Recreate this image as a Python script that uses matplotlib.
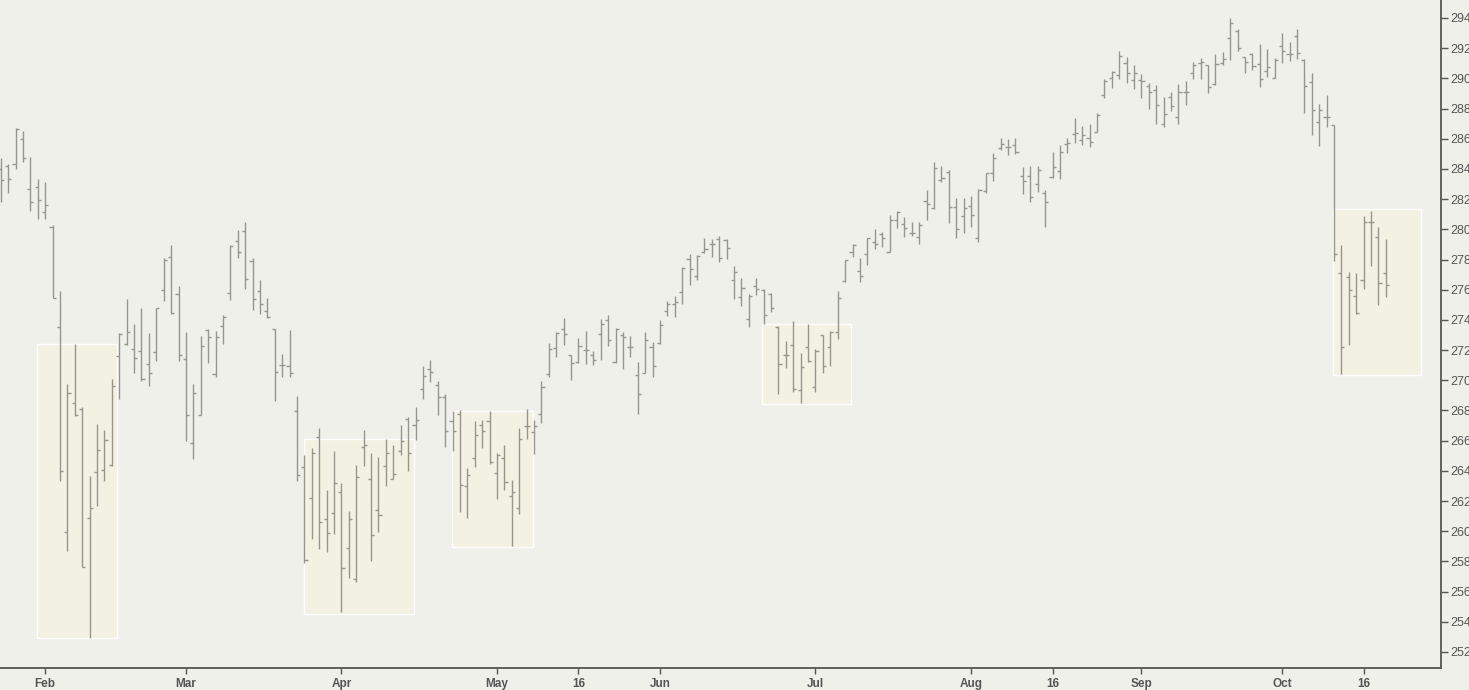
import numpy as np
import pandas as pd
import matplotlib
matplotlib.use('Agg')
import matplotlib.pyplot as plt
from matplotlib.patches import Rectangle

# trading days shown (NYSE holidays removed)
holidays = ['2018-02-19', '2018-03-30', '2018-05-28', '2018-07-04', '2018-09-03']
dates = pd.bdate_range('2018-01-24', '2018-10-19', freq='C', holidays=holidays)

opens = [284.00, 284.20, 284.33, 285.96, 282.65, 282.78, 281.15, 280.13, 273.51, 259.97,
         268.52, 268.08, 260.85, 263.90, 264.03, 264.37, 271.59, 272.38, 272.05, 271.92,
         271.10, 271.85, 275.96, 278.15, 275.72, 271.43, 265.82, 267.72, 273.31, 270.44,
         273.57, 275.76, 279.20, 279.87, 277.88, 275.89, 274.57, 273.37, 271.01, 270.94,
         267.96, 264.23, 262.18, 266.22, 260.79, 261.19, 262.58, 258.91, 256.84, 265.58,
         263.44, 261.38, 264.32, 263.48, 265.32, 267.46, 267.01, 269.42, 270.72, 269.67,
         268.91, 267.28, 267.74, 263.00, 264.85, 267.01, 267.30, 263.88, 264.85, 262.33,
         261.56, 266.95, 266.55, 267.74, 270.39, 272.16, 273.38, 271.65, 271.19, 271.98,
         271.67, 273.09, 273.97, 271.21, 273.00, 272.18, 270.33, 270.50, 272.20, 272.47,
         274.57, 275.08, 275.85, 278.01, 276.89, 278.48, 279.05, 279.38, 279.32, 276.62,
         275.52, 274.04, 276.27, 276.00, 275.69, 273.53, 271.65, 272.32, 269.38, 272.18,
         269.53, 272.98, 272.18, 273.20, 276.57, 278.48, 277.22, 278.34, 279.18, 279.67,
         278.52, 280.64, 280.35, 279.78, 279.47, 281.87, 281.39, 283.27, 283.82, 281.50,
         280.86, 281.57, 279.40, 282.56, 283.71, 285.41, 285.48, 285.59, 283.51, 283.51,
         282.98, 282.43, 283.44, 283.86, 285.63, 286.29, 285.90, 286.03, 286.47, 288.90,
         290.05, 290.22, 291.04, 289.89, 289.89, 289.50, 289.23, 287.00, 288.74, 287.42,
         289.12, 290.33, 291.04, 290.89, 289.63, 291.00, 292.65, 293.16, 291.42, 291.64,
         290.95, 290.49, 290.00, 292.14, 291.59, 292.81, 291.22, 289.76, 287.09, 287.42,
         286.93, 277.09, 276.85, 275.58, 276.64, 280.49, 279.47, 277.13]
highs = [284.75, 284.33, 286.69, 286.51, 284.79, 283.31, 283.14, 280.26, 275.91, 269.75,
         272.40, 268.21, 263.66, 267.10, 266.71, 270.08, 273.11, 275.38, 273.73, 274.79,
         273.11, 274.79, 278.10, 278.94, 276.24, 273.20, 269.75, 272.91, 273.42, 273.26,
         274.30, 278.94, 279.96, 280.46, 278.12, 276.62, 275.43, 273.42, 271.74, 273.33,
         268.96, 265.05, 265.53, 266.84, 262.75, 265.32, 263.17, 261.34, 264.37, 266.71,
         265.16, 264.92, 266.11, 265.69, 267.01, 267.59, 268.21, 270.94, 271.34, 269.95,
         269.09, 267.99, 268.03, 264.16, 267.30, 267.37, 267.99, 265.16, 265.71, 263.37,
         266.82, 268.07, 267.37, 269.95, 272.49, 273.18, 274.10, 271.67, 272.80, 273.24,
         271.94, 274.06, 274.33, 273.44, 273.22, 272.94, 271.23, 273.20, 272.54, 273.99,
         275.27, 275.61, 277.53, 278.34, 278.30, 279.40, 279.36, 279.54, 279.36, 277.55,
         276.75, 275.74, 276.75, 276.05, 275.76, 273.62, 272.60, 273.91, 271.83, 273.73,
         272.05, 273.02, 273.26, 275.92, 278.00, 279.05, 278.08, 279.45, 280.00, 279.85,
         280.95, 281.21, 280.79, 280.51, 280.46, 282.58, 284.46, 284.19, 283.90, 282.05,
         282.05, 282.21, 282.67, 283.73, 285.06, 286.03, 285.98, 286.03, 284.13, 284.19,
         284.19, 282.60, 285.10, 285.59, 286.03, 287.35, 286.85, 286.98, 287.68, 289.94,
         290.49, 291.81, 291.39, 290.86, 290.27, 289.67, 289.54, 288.74, 289.08, 289.63,
         289.83, 291.06, 291.33, 290.89, 291.62, 291.77, 294.00, 293.25, 291.44, 291.70,
         292.25, 291.95, 291.33, 292.98, 292.43, 293.25, 291.26, 290.33, 288.28, 288.88,
         286.93, 278.94, 277.17, 277.09, 280.88, 281.19, 280.15, 279.36]
lows = [281.83, 282.43, 283.97, 284.48, 281.24, 280.68, 280.68, 275.43, 263.35, 258.71,
        267.63, 257.61, 252.91, 261.69, 263.35, 264.34, 268.78, 272.31, 270.50, 269.98,
        269.64, 271.30, 275.27, 274.37, 271.30, 266.00, 264.79, 267.68, 271.17, 270.24,
        272.43, 275.32, 278.12, 276.05, 274.66, 274.39, 274.15, 268.65, 270.19, 270.24,
        263.35, 257.87, 259.46, 258.84, 258.60, 259.84, 254.67, 256.88, 256.61, 264.34,
        258.05, 259.97, 263.02, 263.44, 265.07, 264.01, 266.04, 268.76, 269.89, 267.72,
        265.60, 265.34, 261.27, 260.90, 264.28, 265.54, 264.47, 262.13, 262.75, 259.04,
        261.16, 266.13, 265.11, 267.15, 270.24, 271.54, 272.34, 270.04, 271.12, 271.06,
        270.99, 271.37, 272.25, 271.14, 270.77, 271.56, 267.77, 270.48, 270.20, 272.43,
        274.28, 274.19, 275.08, 276.31, 276.66, 278.41, 278.17, 277.82, 278.06, 275.38,
        274.94, 273.55, 275.65, 273.71, 274.50, 269.11, 270.84, 269.20, 268.52, 271.23,
        269.25, 270.46, 270.97, 272.73, 276.53, 278.14, 276.53, 277.61, 278.67, 278.85,
        278.48, 280.06, 279.47, 279.56, 279.05, 280.64, 281.35, 283.14, 280.40, 279.40,
        279.78, 280.18, 279.18, 282.38, 283.22, 285.25, 284.92, 284.97, 282.36, 281.79,
        282.49, 280.18, 283.42, 283.33, 285.08, 285.74, 285.59, 285.48, 286.42, 288.72,
        289.38, 289.94, 289.67, 289.30, 288.72, 287.95, 287.00, 286.76, 287.86, 287.00,
        288.24, 289.98, 289.98, 289.05, 289.58, 290.89, 291.22, 291.84, 290.38, 290.56,
        289.45, 290.11, 290.00, 291.00, 291.17, 291.28, 287.68, 286.22, 285.54, 286.80,
        277.92, 270.42, 272.36, 274.39, 276.07, 277.57, 274.99, 275.49]
closes = [283.25, 283.31, 286.62, 284.70, 281.81, 281.92, 281.59, 275.47, 263.97, 269.18,
          267.68, 257.65, 261.52, 265.36, 266.02, 269.60, 273.07, 273.18, 271.45, 270.06,
          270.46, 274.77, 277.97, 274.44, 271.70, 267.72, 269.14, 272.24, 272.89, 272.84,
          274.19, 278.92, 278.52, 276.73, 275.36, 275.05, 274.22, 270.53, 271.01, 270.46,
          263.70, 258.09, 265.18, 260.63, 259.86, 263.17, 257.54, 260.79, 263.59, 265.71,
          259.73, 261.05, 265.16, 263.77, 265.96, 265.16, 267.35, 270.26, 270.53, 268.91,
          266.62, 266.62, 263.06, 263.70, 266.35, 266.64, 264.56, 265.03, 263.26, 262.62,
          266.11, 266.95, 266.99, 269.53, 272.05, 273.11, 273.07, 271.17, 272.25, 272.03,
          271.37, 273.75, 272.65, 273.37, 272.89, 272.18, 269.07, 272.65, 270.97, 273.66,
          275.05, 275.16, 277.46, 277.39, 278.23, 278.70, 279.01, 278.08, 278.74, 277.15,
          276.11, 275.58, 276.02, 274.32, 274.81, 271.06, 271.65, 269.42, 270.90, 271.30,
          271.94, 270.95, 273.22, 275.43, 277.97, 278.96, 276.93, 279.40, 279.00, 279.42,
          280.62, 281.17, 280.06, 279.73, 280.29, 281.65, 284.04, 283.38, 281.48, 280.02,
          281.43, 280.95, 282.60, 283.70, 284.70, 285.67, 285.45, 285.10, 283.20, 282.12,
          283.91, 281.79, 284.11, 285.10, 285.74, 286.36, 286.23, 285.81, 287.57, 289.85,
          290.40, 291.50, 290.38, 290.33, 289.85, 289.10, 288.24, 287.64, 288.15, 289.12,
          289.12, 290.86, 291.11, 289.41, 290.97, 291.26, 293.65, 292.03, 291.06, 290.84,
          289.94, 290.73, 291.22, 291.79, 291.59, 291.70, 289.50, 287.91, 287.88, 287.42,
          278.34, 272.18, 275.98, 274.44, 280.49, 280.49, 276.42, 276.29]

tick_dates = ['2018-02-01', '2018-03-01', '2018-04-02', '2018-05-01', '2018-05-16',
              '2018-06-01', '2018-07-02', '2018-08-01', '2018-08-16', '2018-09-04',
              '2018-10-01', '2018-10-16']
tick_labels = ['Feb', 'Mar', 'Apr', 'May', '16', 'Jun', 'Jul', 'Aug', '16', 'Sep', 'Oct', '16']

# highlighted consolidation zones: bar index span and price span
zone_start = [4.83, 40.90, 60.89, 102.82, 179.83]
zone_end = [15.76, 55.84, 71.84, 114.84, 191.79]
zone_low = [252.93, 254.50, 258.98, 268.41, 270.32]
zone_high = [272.38, 266.09, 267.98, 273.71, 281.33]

bg = '#f0f0ea'
bar_col = '#96968f'

fig = plt.figure(figsize=(14.69, 6.90), dpi=100, facecolor=bg)
ax = fig.add_axes([0.0, 22 / 690, 1441 / 1469, 668 / 690])
ax.set_facecolor(bg)

for x0, x1, lo, hi in zip(zone_start, zone_end, zone_low, zone_high):
    ax.add_patch(Rectangle((x0, lo), x1 - x0, hi - lo, facecolor='#f3f1e2',
                           edgecolor='white', linewidth=1.0, zorder=1))

x = np.arange(len(dates))
ax.vlines(x, lows, highs, color=bar_col, linewidth=1.0, zorder=3)
ax.hlines(opens, x - 0.42, x, color=bar_col, linewidth=1.0, zorder=3)
ax.hlines(closes, x, x + 0.42, color=bar_col, linewidth=1.0, zorder=3)

ax.set_xlim(-0.1, 194.45)
ax.set_ylim(250.94, 295.19)

ax.yaxis.tick_right()
ax.set_yticks(np.arange(252, 295, 2))
ax.set_yticklabels([f'{v:.2f}' for v in np.arange(252, 295, 2)],
                   family=['Liberation Sans', 'DejaVu Sans'])
ax.tick_params(axis='y', direction='out', length=5, width=1, color='#555555',
               labelsize=9, labelcolor='#555555', pad=2)

ax.set_xticks([dates.get_loc(pd.Timestamp(d)) for d in tick_dates])
ax.set_xticklabels(tick_labels, family=['Liberation Sans', 'DejaVu Sans'],
                   fontweight='bold')
ax.tick_params(axis='x', direction='out', length=4, width=1, color='#555555',
               labelsize=8.5, labelcolor='#555555', pad=3)

for side in ['top', 'left']:
    ax.spines[side].set_visible(False)
for side in ['right', 'bottom']:
    ax.spines[side].set_color('#555555')
    ax.spines[side].set_linewidth(1.3)

fig.savefig('out.png', dpi=100, facecolor=bg)
